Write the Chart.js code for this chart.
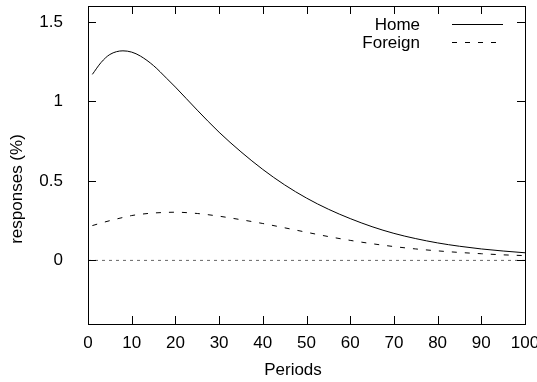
<!DOCTYPE html>
<html>
<head>
<meta charset="utf-8">
<script src="https://cdn.jsdelivr.net/npm/chart.js@4.4.0/dist/chart.umd.min.js"></script>
<style>
  html, body { margin: 0; padding: 0; background: #fff; }
  #wrap { width: 537px; height: 382px; }
</style>
</head>
<body>
<div id="wrap"><canvas id="chart" width="537" height="382"></canvas></div>
<script>
// Data
const periods = [1, 3, 5, 8, 10, 12, 15, 18, 20, 25, 30, 35, 40, 45, 50, 55, 60, 65, 70, 75, 80, 85, 90, 95, 100];
const homeValues = [1.17, 1.245, 1.295, 1.318, 1.31, 1.285, 1.225, 1.145, 1.09, 0.945, 0.806, 0.683, 0.572, 0.475, 0.392, 0.322, 0.263, 0.212, 0.170, 0.137, 0.110, 0.089, 0.072, 0.059, 0.048];
const foreignValues = [0.219, 0.235, 0.25, 0.27, 0.282, 0.29, 0.298, 0.302, 0.303, 0.295, 0.278, 0.256, 0.232, 0.205, 0.177, 0.150, 0.126, 0.105, 0.087, 0.072, 0.060, 0.050, 0.042, 0.035, 0.030];
const zeroPeriods = [0, 100];
const zeroValues = [0, 0];
const yTicks = [0, 0.5, 1, 1.5];
const seriesNames = ['Home', 'Foreign'];

const FONT = '"Liberation Sans", Arial, sans-serif';
const FSIZE = 17;

function toPoints(xs, ys) {
  return xs.map((x, i) => ({ x: x, y: ys[i] }));
}

// Box, inner ticks, titles and key (gnuplot look)
const framePlugin = {
  id: 'frame',
  afterDatasetsDraw(chart) {
    const ctx = chart.ctx;
    const a = chart.chartArea;
    const xs = chart.scales.x;
    const ys = chart.scales.y;
    const tl = 8;
    ctx.save();
    ctx.strokeStyle = '#000';
    ctx.lineWidth = 1;
    ctx.beginPath();
    xs.ticks.forEach(t => {
      const px = Math.round(xs.getPixelForValue(t.value)) + 0.5;
      ctx.moveTo(px, a.bottom); ctx.lineTo(px, a.bottom - tl);
      ctx.moveTo(px, a.top); ctx.lineTo(px, a.top + tl);
    });
    ys.ticks.forEach(t => {
      const py = Math.round(ys.getPixelForValue(t.value)) + 0.5;
      ctx.moveTo(a.left, py); ctx.lineTo(a.left + tl, py);
      ctx.moveTo(a.right, py); ctx.lineTo(a.right - tl, py);
    });
    ctx.stroke();
    ctx.strokeRect(Math.round(a.left) + 0.5, Math.round(a.top) + 0.5,
                   Math.round(a.right - a.left), Math.round(a.bottom - a.top));

    // key
    ctx.fillStyle = '#000';
    ctx.font = FSIZE + 'px ' + FONT;
    ctx.textAlign = 'right';
    ctx.textBaseline = 'middle';
    const rows = [25, 43];
    seriesNames.forEach((name, i) => {
      ctx.fillText(name, 420, rows[i]);
      ctx.setLineDash(i === 0 ? [] : [5, 8]);
      ctx.beginPath();
      ctx.moveTo(452, rows[i] - 0.5);
      ctx.lineTo(503, rows[i] - 0.5);
      ctx.stroke();
    });
    ctx.setLineDash([]);

    // axis titles
    ctx.textAlign = 'center';
    ctx.fillText('Periods', 293, 370);
    ctx.translate(17, 189);
    ctx.rotate(-Math.PI / 2);
    ctx.fillText('responses (%)', 0, 0);
    ctx.restore();
  }
};

new Chart(document.getElementById('chart'), {
  type: 'line',
  data: {
    datasets: [
      {
        label: seriesNames[0],
        data: toPoints(periods, homeValues),
        borderColor: '#000',
        borderWidth: 1,
        pointRadius: 0,
        cubicInterpolationMode: 'monotone'
      },
      {
        label: seriesNames[1],
        data: toPoints(periods, foreignValues),
        borderColor: '#000',
        borderWidth: 1,
        borderDash: [5, 8],
        pointRadius: 0,
        cubicInterpolationMode: 'monotone'
      },
      {
        label: 'zero',
        data: toPoints(zeroPeriods, zeroValues),
        borderColor: '#666',
        borderWidth: 1,
        borderDash: [3, 4],
        pointRadius: 0
      }
    ]
  },
  options: {
    responsive: false,
    animation: false,
    devicePixelRatio: 1,
    layout: { autoPadding: false, padding: { top: 6, right: 12, left: 0, bottom: 0 } },
    plugins: {
      legend: { display: false },
      tooltip: { enabled: false }
    },
    scales: {
      x: {
        type: 'linear',
        min: 0,
        max: 100,
        border: { display: false },
        grid: { display: false, tickLength: 6 },
        ticks: {
          stepSize: 10,
          color: '#000',
          padding: 3,
          maxRotation: 0,
          font: { family: FONT, size: FSIZE }
        },
        afterFit(scale) {
          scale.height = 58;
          scale.paddingLeft = 0;
          scale.paddingRight = 12;
        }
      },
      y: {
        min: -0.4,
        max: 1.6,
        border: { display: false },
        grid: { display: false, tickLength: 22 },
        afterBuildTicks(scale) {
          scale.ticks = yTicks.map(v => ({ value: v }));
        },
        ticks: {
          color: '#000',
          padding: 3,
          font: { family: FONT, size: FSIZE },
          callback: v => String(v)
        },
        afterFit(scale) {
          scale.width = 88;
          scale.paddingTop = 6;
          scale.paddingBottom = 0;
        }
      }
    }
  },
  plugins: [framePlugin]
});
</script>
</body>
</html>
